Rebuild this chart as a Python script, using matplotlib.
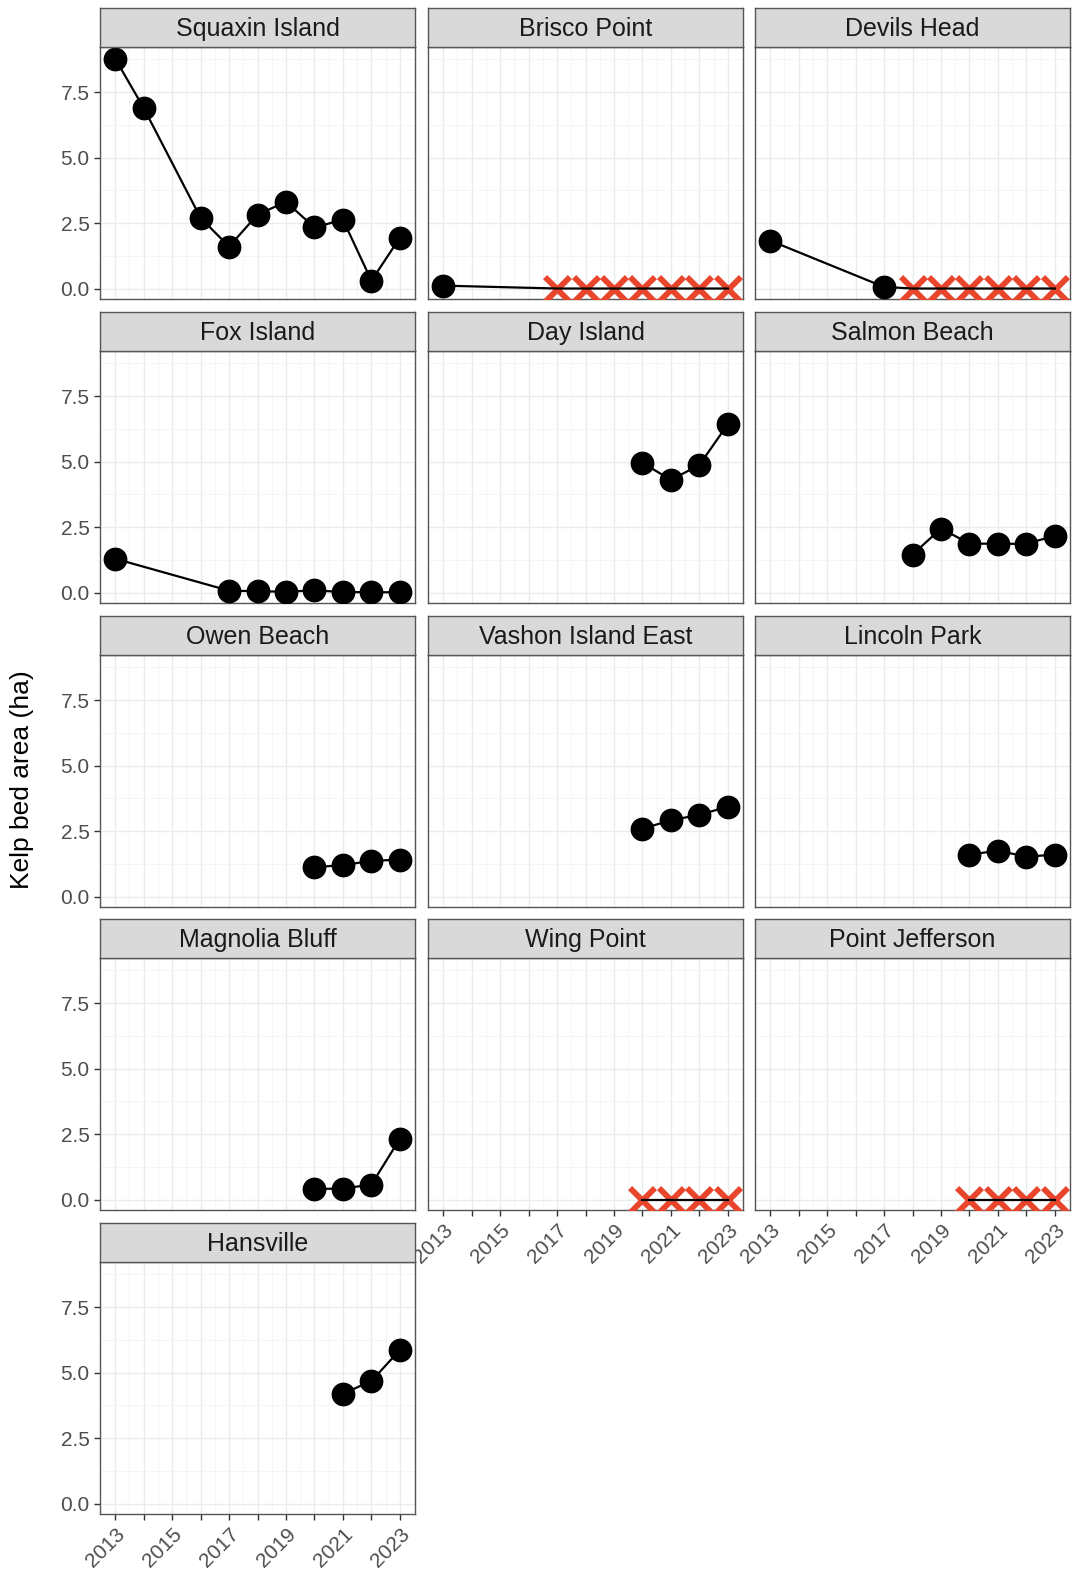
import numpy as np
import matplotlib
matplotlib.use("Agg")
import matplotlib.pyplot as plt

plt.rcParams['font.family'] = ['Liberation Sans', 'DejaVu Sans']

sites = ["Squaxin Island", "Brisco Point", "Devils Head",
         "Fox Island", "Day Island", "Salmon Beach",
         "Owen Beach", "Vashon Island East", "Lincoln Park",
         "Magnolia Bluff", "Wing Point", "Point Jefferson",
         "Hansville"]

# surveyed years and kelp area (ha); absent = red X at zero
squaxin_years = [2013, 2014, 2016, 2017, 2018, 2019, 2020, 2021, 2022, 2023]
squaxin_area = [8.78, 6.9, 2.7, 1.6, 2.82, 3.31, 2.33, 2.63, 0.3, 1.94]
brisco_years = [2013]
brisco_area = [0.11]
brisco_absent = [2017, 2018, 2019, 2020, 2021, 2022, 2023]
devils_years = [2013, 2017]
devils_area = [1.83, 0.06]
devils_absent = [2018, 2019, 2020, 2021, 2022, 2023]
fox_years = [2013, 2017, 2018, 2019, 2020, 2021, 2022, 2023]
fox_area = [1.29, 0.07, 0.05, 0.03, 0.08, 0.02, 0.01, 0.01]
day_years = [2020, 2021, 2022, 2023]
day_area = [4.95, 4.3, 4.87, 6.43]
salmon_years = [2018, 2019, 2020, 2021, 2022, 2023]
salmon_area = [1.45, 2.44, 1.87, 1.86, 1.86, 2.17]
owen_years = [2020, 2021, 2022, 2023]
owen_area = [1.12, 1.2, 1.36, 1.41]
vashon_years = [2020, 2021, 2022, 2023]
vashon_area = [2.59, 2.91, 3.12, 3.43]
lincoln_years = [2020, 2021, 2022, 2023]
lincoln_area = [1.6, 1.75, 1.52, 1.6]
magnolia_years = [2020, 2021, 2022, 2023]
magnolia_area = [0.4, 0.42, 0.57, 2.32]
wing_absent = [2020, 2021, 2022, 2023]
jefferson_absent = [2020, 2021, 2022, 2023]
hansville_years = [2021, 2022, 2023]
hansville_area = [4.19, 4.68, 5.86]

present = {
    "Squaxin Island": (squaxin_years, squaxin_area),
    "Brisco Point": (brisco_years, brisco_area),
    "Devils Head": (devils_years, devils_area),
    "Fox Island": (fox_years, fox_area),
    "Day Island": (day_years, day_area),
    "Salmon Beach": (salmon_years, salmon_area),
    "Owen Beach": (owen_years, owen_area),
    "Vashon Island East": (vashon_years, vashon_area),
    "Lincoln Park": (lincoln_years, lincoln_area),
    "Magnolia Bluff": (magnolia_years, magnolia_area),
    "Wing Point": ([], []),
    "Point Jefferson": ([], []),
    "Hansville": (hansville_years, hansville_area),
}
absent = {
    "Brisco Point": brisco_absent,
    "Devils Head": devils_absent,
    "Wing Point": wing_absent,
    "Point Jefferson": jefferson_absent,
}

years = np.arange(2013, 2024)
year_labels = [str(y) if y % 2 == 1 else "" for y in years]
y_ticks = [0.0, 2.5, 5.0, 7.5]

W, H = 1073, 1570
fig = plt.figure(figsize=(W / 100, H / 100), dpi=100)

col_x = [100, 428, 755]
pw = 315
row_top = [8, 312, 616, 919, 1223]
strip_h = 39
ph = 252
grey = "#555555"

for i, site in enumerate(sites):
    r, c = divmod(i, 3)
    x0 = col_x[c]
    top = row_top[r]
    ax = fig.add_axes([x0 / W, 1 - (top + strip_h + ph) / H, pw / W, ph / H])
    sx = fig.add_axes([x0 / W, 1 - (top + strip_h) / H, pw / W, strip_h / H])
    sx.set_facecolor("#d9d9d9")
    sx.set_xticks([])
    sx.set_yticks([])
    for s in sx.spines.values():
        s.set_color(grey)
        s.set_linewidth(1.0)
    sx.text(0.5, 0.47, site, ha="center", va="center", fontsize=18,
            color="#1a1a1a", transform=sx.transAxes)

    yrs, area = present[site]
    ab = absent.get(site, [])
    line_x = list(yrs) + list(ab)
    line_y = list(area) + [0.0] * len(ab)
    if ab:
        ax.scatter(ab, [0.0] * len(ab), marker="x", s=320, color="#e8452c",
                   linewidths=4.2, zorder=3)
    if len(line_x) > 1:
        ax.plot(line_x, line_y, color="black", lw=1.6, zorder=4)
    if yrs:
        ax.scatter(yrs, area, s=260, color="black", zorder=5)

    ax.set_xlim(2012.47, 2023.53)
    ax.set_ylim(-0.4, 9.22)
    ax.set_xticks(years)
    ax.set_xticks(years[:-1] + 0.5, minor=True)
    ax.set_yticks(y_ticks)
    ax.set_yticks([1.25, 3.75, 6.25, 8.75], minor=True)
    ax.grid(which="major", color="#ebebeb", lw=1.0)
    ax.grid(which="minor", color="#f4f4f4", lw=0.6)
    ax.set_axisbelow(True)
    ax.tick_params(which="minor", length=0)
    ax.tick_params(which="major", length=4, width=1, color="#333333",
                   labelsize=15, labelcolor="#4d4d4d")
    for s in ax.spines.values():
        s.set_color(grey)
        s.set_linewidth(1.0)

    if c == 0:
        ax.set_yticklabels(["0.0", "2.5", "5.0", "7.5"])
    else:
        ax.tick_params(axis="y", which="major", length=0, labelleft=False)
    bottom = (i == 12) or (r == 3 and c > 0)
    if bottom:
        ax.set_xticklabels(year_labels, rotation=45, ha="right",
                           rotation_mode="anchor")
    else:
        ax.tick_params(axis="x", which="major", length=0, labelbottom=False)

fig.text(22 / W, 1 - 780 / H, "Kelp bed area (ha)", rotation=90,
         ha="center", va="center", fontsize=19, color="black")

fig.savefig("out.png", dpi=100)
